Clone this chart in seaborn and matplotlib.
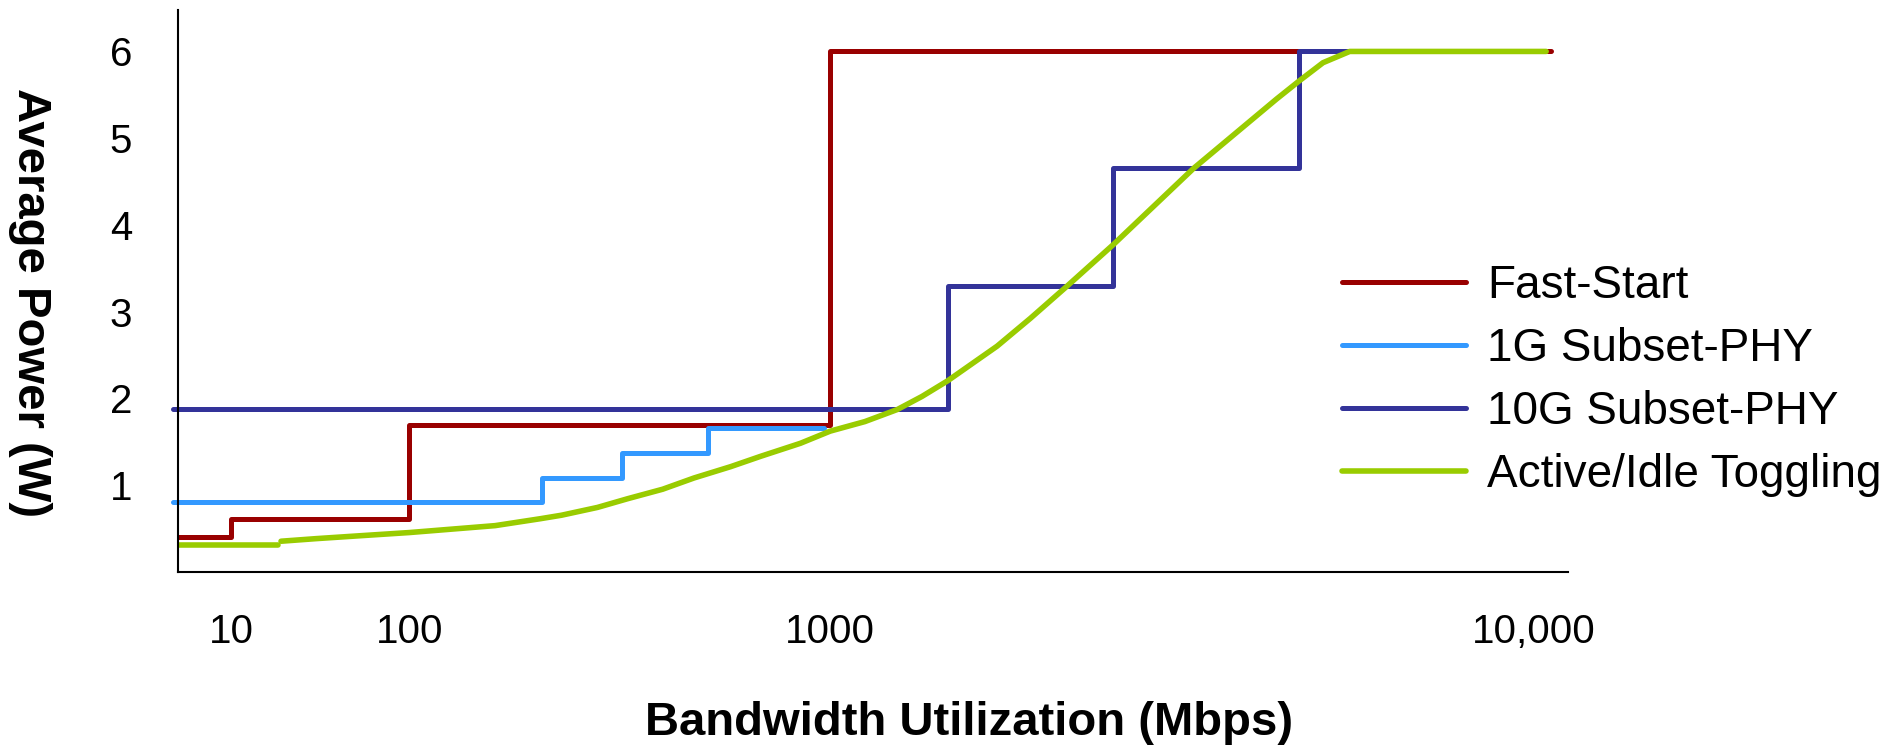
import numpy as np
import matplotlib
matplotlib.use("Agg")
import matplotlib.pyplot as plt
import seaborn as sns

# values (x in Mbps, y in W)
fast_x = [5, 10, 100, 1000, 10550]
fast_y = [0.40, 0.61, 1.69, 6.0, 6.0]

g1_x = [4.7, 207, 320, 512, 967]
g1_y = [0.80, 1.085, 1.37, 1.656, 1.656]

g10_x = [4.7, 1468, 2523, 4640, 5480]
g10_y = [1.87, 3.29, 4.65, 6.0, 6.0]

idle_flat_x = [5, 18.2]
idle_flat_y = [0.31, 0.31]
idle_x = [19, 30, 50, 100, 160, 205, 230, 280, 330, 400, 475, 580, 684, 850, 1000,
          1120, 1246, 1350, 1468, 1726, 1924, 2168, 2523, 3281, 4304, 4637, 5012, 5470, 10400]
idle_y = [0.35, 0.38, 0.41, 0.45, 0.53, 0.61, 0.65, 0.74, 0.84, 0.95, 1.08, 1.21, 1.33, 1.48, 1.62,
          1.73, 1.87, 2.02, 2.20, 2.60, 2.92, 3.29, 3.77, 4.65, 5.45, 5.66, 5.87, 6.0, 6.0]

xticks = [10, 100, 1000, 10000]
xtick_labels = ["10", "100", "1000", "10,000"]
yticks = [1, 2, 3, 4, 5, 6]

RED = "#990000"
LIGHT = "#3399ff"
NAVY = "#333399"
GREEN = "#99cc00"

# the original axis is not a true log scale: each decade has its own width
DEC = np.array([0, 1, 2, 3, 4, 5], dtype=float)
POS = np.array([43, 190, 337, 685, 1267, 1849], dtype=float)


def fwd(x):
    x = np.clip(np.asarray(x, dtype=float), 1e-3, None)
    return np.interp(np.log10(x), DEC, POS)


def inv(p):
    return 10 ** np.interp(np.asarray(p, dtype=float), POS, DEC)


sns.set_style("white")
plt.rcParams["font.family"] = ["Liberation Sans", "DejaVu Sans"]
plt.rcParams["text.color"] = "black"
plt.rcParams["axes.labelcolor"] = "black"

fig = plt.figure(figsize=(18.99, 7.45), dpi=100)
ax = fig.add_axes([0.0937, 0.2328, 0.732, 0.754])
ax.set_xscale("function", functions=(fwd, inv))

lw = 3.6
sns.lineplot(x=fast_x, y=fast_y, ax=ax, color=RED, lw=lw, drawstyle="steps-post",
             sort=False, estimator=None, label="Fast-Start")
sns.lineplot(x=g1_x, y=g1_y, ax=ax, color=LIGHT, lw=lw, drawstyle="steps-post",
             sort=False, estimator=None, label="1G Subset-PHY", clip_on=False)
sns.lineplot(x=g10_x, y=g10_y, ax=ax, color=NAVY, lw=lw, drawstyle="steps-post",
             sort=False, estimator=None, label="10G Subset-PHY", clip_on=False)
sns.lineplot(x=idle_flat_x, y=idle_flat_y, ax=ax, color=GREEN, lw=4,
             sort=False, estimator=None)
sns.lineplot(x=idle_x, y=idle_y, ax=ax, color=GREEN, lw=4, sort=False,
             estimator=None, label="Active/Idle Toggling", solid_capstyle="round",
             solid_joinstyle="round")

ax.set_xlim(5, 11170)
ax.set_ylim(0, 6.48)
ax.set_xticks(xticks)
ax.set_xticklabels(xtick_labels)
ax.set_yticks(yticks)
ax.minorticks_off()

for side in ["top", "right"]:
    ax.spines[side].set_visible(False)
for side in ["left", "bottom"]:
    ax.spines[side].set_color("black")
    ax.spines[side].set_linewidth(1.5)

ax.tick_params(axis="x", direction="inout", length=22, width=1.5, pad=19,
               labelsize=29, colors="black")
ax.tick_params(axis="y", direction="inout", length=26, width=1.5, pad=20,
               labelsize=29, colors="black")

ax.set_xlabel("Bandwidth Utilization (Mbps)", fontsize=34, fontweight="bold", va="center")
ax.xaxis.set_label_coords(0.569, -0.27)
ax.set_ylabel("Average Power (W)", fontsize=34, fontweight="bold", rotation=270,
              va="center", ha="center")
ax.yaxis.set_label_coords(-0.1065, 0.478)

handles, labels = ax.get_legend_handles_labels()
ax.legend(handles, labels, loc="upper left", bbox_to_anchor=(0.7067, 0.646),
          bbox_transform=fig.transFigure, frameon=False, fontsize=33,
          handlelength=2.7, handletextpad=0.46, labelspacing=0.42, borderpad=0,
          borderaxespad=0)

fig.savefig("out.png", dpi=100)
